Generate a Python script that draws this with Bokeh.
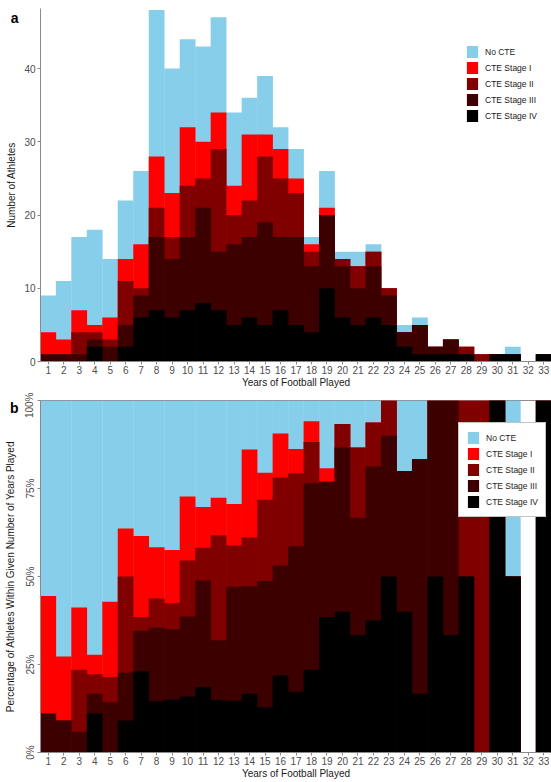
import numpy as np
from bokeh.plotting import figure
from bokeh.models import (Range1d, FixedTicker, Legend, LegendItem, LinearAxis,
                          ColumnDataSource, NumeralTickFormatter)
from bokeh.layouts import column
from bokeh.embed import file_html
from bokeh.resources import INLINE

# ---------------- data ----------------
years = list(range(1, 34))
stage_iv  = [0, 0, 0, 2, 0, 2, 6, 7, 6, 7, 8, 7, 5, 6, 5, 7, 5, 4, 10, 6, 5, 6, 5, 2, 1, 1, 1, 1, 0, 1, 1, 0, 1]
stage_iii = [1, 1, 1, 1, 2, 3, 3, 10, 8, 10, 13, 8, 11, 11, 14, 10, 12, 9, 10, 7, 5, 7, 4, 2, 4, 1, 2, 0, 0, 0, 0, 0, 0]
stage_ii  = [0, 0, 3, 1, 1, 6, 1, 4, 3, 7, 4, 14, 4, 5, 9, 8, 6, 2, 0, 1, 3, 2, 1, 0, 0, 0, 0, 1, 1, 0, 0, 0, 0]
stage_i   = [3, 2, 3, 1, 3, 3, 6, 7, 6, 8, 5, 5, 4, 9, 3, 4, 2, 1, 1, 0, 0, 0, 0, 0, 0, 0, 0, 0, 0, 0, 0, 0, 0]
no_cte    = [5, 8, 10, 13, 8, 8, 10, 20, 17, 12, 13, 13, 10, 5, 8, 3, 4, 1, 5, 1, 2, 1, 0, 1, 1, 0, 0, 0, 0, 0, 1, 0, 0]

labels = ["CTE Stage IV", "CTE Stage III", "CTE Stage II", "CTE Stage I", "No CTE"]
colors = ["#000000", "#3d0000", "#800000", "#ff0000", "#87ceeb"]
y_ticks_a = [0, 10, 20, 30, 40]
y_ticks_b = [0, 0.25, 0.5, 0.75, 1.0]

FONT = "Liberation Sans"

layers = [np.array(v, dtype=float) for v in (stage_iv, stage_iii, stage_ii, stage_i, no_cte)]
cum_counts = np.cumsum(np.vstack(layers), axis=0)          # cumulative tops, bottom layer first
total = cum_counts[-1]
cum_frac = cum_counts / np.where(total > 0, total, 1)

cols_a = {"years": years}
cols_b = {"years": years}
for k in range(5):
    cols_a[f"t{k}"] = cum_counts[k].tolist()
    cols_b[f"t{k}"] = cum_frac[k].tolist()
src_a = ColumnDataSource(cols_a)
src_b = ColumnDataSource(cols_b)


def style(p):
    p.xgrid.visible = False
    p.ygrid.visible = False
    for ax in (p.xaxis[0], p.yaxis[0]):
        ax.axis_line_color = "#8a8a8a"
        ax.axis_line_width = 1
        ax.major_tick_line_color = "#8a8a8a"
        ax.major_tick_out = 3
        ax.major_tick_in = 0
        ax.minor_tick_line_color = None
        ax.major_label_text_font = FONT
        ax.major_label_text_font_size = "10px"
        ax.major_label_text_color = "#4d4d4d"
        ax.axis_label_text_font = FONT
        ax.axis_label_text_font_size = "10px"
        ax.axis_label_text_font_style = "normal"
        ax.axis_label_text_color = "#1a1a1a"
        ax.major_label_standoff = 2
        ax.axis_label_standoff = 2
    p.xaxis.major_label_standoff = 1
    p.xaxis.axis_label_standoff = 0
    p.xaxis.ticker = FixedTicker(ticks=years)
    p.xaxis.axis_label = "Years of Football Played"


def draw_bars(p, src):
    rs = [None] * 5
    # draw from the top layer downwards: each bar runs from 0 to its cumulative top
    for k in range(4, -1, -1):
        rs[k] = p.vbar(x="years", top=f"t{k}", bottom=0, width=1.02, source=src,
                       fill_color=colors[k], line_color=None)
    return rs


def outer_axis(p, tick, letter, title):
    ax = LinearAxis(ticker=FixedTicker(ticks=[tick]),
                    major_label_overrides={tick: letter},
                    axis_label=title)
    ax.axis_line_color = None
    ax.major_tick_line_color = None
    ax.major_tick_out = 0
    ax.major_tick_in = 0
    ax.minor_tick_line_color = None
    ax.major_label_standoff = 3
    ax.major_label_text_font = FONT
    ax.major_label_text_font_style = "bold"
    ax.major_label_text_font_size = "14px"
    ax.major_label_text_color = "#000000"
    ax.axis_label_text_font = FONT
    ax.axis_label_text_font_size = "10px"
    ax.axis_label_text_font_style = "normal"
    ax.axis_label_text_color = "#1a1a1a"
    ax.axis_label_standoff = -9
    p.add_layout(ax, "left")


def add_legend(p, rs, loc, boxed):
    items = [LegendItem(label=lab, renderers=[r]) for lab, r in zip(labels, rs)][::-1]
    leg = Legend(items=items, location=loc, glyph_width=14, glyph_height=15,
                 label_height=15, spacing=1, label_standoff=6,
                 label_text_font=FONT, label_text_font_size="8.5px",
                 label_text_color="#1a1a1a", margin=0)
    if boxed:
        leg.padding = 7
        leg.border_line_color = "#8a8a8a"
        leg.border_line_width = 1
        leg.background_fill_color = "white"
        leg.background_fill_alpha = 1.0
    else:
        leg.padding = 0
        leg.border_line_color = None
        leg.background_fill_alpha = 0
    p.add_layout(leg)


# ---------------- panel a ----------------
p1 = figure(width=551, height=392, x_range=Range1d(0.5, 33.5), y_range=Range1d(0, 48.2),
            output_backend="svg", toolbar_location=None,
            min_border_left=40, min_border_right=0, min_border_top=8, min_border_bottom=31)
rs1 = draw_bars(p1, src_a)
style(p1)
p1.yaxis.ticker = FixedTicker(ticks=y_ticks_a)
p1.outline_line_color = None
outer_axis(p1, 46.9, "a", "Number of Athletes")
add_legend(p1, rs1, (425, 238), False)

# ---------------- panel b ----------------
p2 = figure(width=551, height=390, x_range=Range1d(0.5, 33.5), y_range=Range1d(0, 1),
            output_backend="svg", toolbar_location=None,
            min_border_left=40, min_border_right=0, min_border_top=8, min_border_bottom=30)
rs2 = draw_bars(p2, src_b)
style(p2)
p2.yaxis.ticker = FixedTicker(ticks=y_ticks_b)
p2.yaxis.formatter = NumeralTickFormatter(format="0%")
p2.yaxis.major_label_orientation = "vertical"
p2.outline_line_color = "#8a8a8a"
p2.outline_line_width = 1
outer_axis(p2, 0.978, "b", "Percentage of Athletes Within Given Number of Years Played")
add_legend(p2, rs2, (418, 235), True)

layout = column(p1, p2, spacing=0)
open("out.html", "w").write(file_html(layout, INLINE))
